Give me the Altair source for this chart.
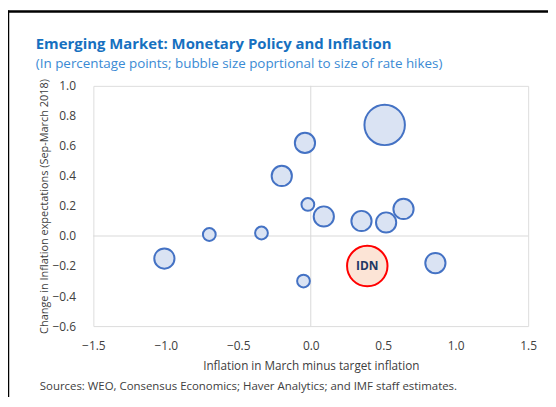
import altair as alt
import pandas as pd

# Data
countries = ["A", "B", "C", "D", "E", "F", "G", "H", "I", "J", "K", "L", "M", "IDN"]
inflation_gap = [0.51, -0.04, -0.20, -0.02, 0.09, 0.35, 0.52, 0.64, -0.70, -0.34, -1.01, -0.05, 0.86, 0.39]
expect_change = [0.74, 0.62, 0.40, 0.21, 0.13, 0.10, 0.09, 0.18, 0.01, 0.02, -0.15, -0.30, -0.18, -0.20]
rate_hike = [1.0, 0.25, 0.25, 0.1, 0.25, 0.25, 0.25, 0.25, 0.1, 0.1, 0.25, 0.1, 0.25, 1.0]

x_ticks = [-1.5, -1.0, -0.5, 0.0, 0.5, 1.0, 1.5]
y_ticks = [-0.6, -0.4, -0.2, 0.0, 0.2, 0.4, 0.6, 0.8, 1.0]

title_text = "Emerging Market: Monetary Policy and Inflation"
subtitle_text = "(In percentage points; bubble size poprtional to size of rate hikes)"
source_text = "Sources: WEO, Consensus Economics; Haver Analytics; and IMF staff estimates."

df = pd.DataFrame({
    "country": countries,
    "x": inflation_gap,
    "y": expect_change,
    "hike": rate_hike,
})
df["is_idn"] = df["country"] == "IDN"

FONT = "Open Sans"
W, H = 438, 242

xscale = alt.Scale(domain=[-1.5, 1.5], nice=False, zero=False)
yscale = alt.Scale(domain=[-0.6, 1.0], nice=False, zero=False)
sscale = alt.Scale(domain=[0, 1], range=[0, 1660], zero=True)

xaxis = alt.Axis(values=x_ticks, format=".1f", grid=False, ticks=False, domain=False,
                 labelPadding=15, labelFontSize=12, labelColor="#404040", labelFont=FONT,
                 labelOverlap=False,
                 title="Inflation in March minus target inflation", titleFontSize=11.8,
                 titleFontWeight="normal", titleColor="#404040", titleFont=FONT,
                 titlePadding=9, labelFlush=False)
yaxis = alt.Axis(values=y_ticks, format=".1f", grid=False, ticks=False, domain=False,
                 labelPadding=18, labelFontSize=12, labelColor="#404040", labelFont=FONT,
                 labelOverlap=False,
                 title="Change in Inflation expectations (Sep-March 2018)", titleFontSize=11,
                 titleFontWeight="normal", titleColor="#404040", titleFont=FONT,
                 titlePadding=2, labelFlush=False)

X = lambda f: alt.X(f, scale=xscale, axis=xaxis)
Y = lambda f: alt.Y(f, scale=yscale, axis=yaxis)

base = alt.Chart(df)

zero_x = alt.Chart(pd.DataFrame({"x": [0.0]})).mark_rule(color="#d9d9d9", strokeWidth=1).encode(
    x=X("x:Q")
)
zero_y = alt.Chart(pd.DataFrame({"y": [0.0]})).mark_rule(color="#d9d9d9", strokeWidth=1).encode(
    y=Y("y:Q")
)

bubbles = base.transform_filter("!datum.is_idn").mark_circle(
    fill="#dae3f3", stroke="#4472c4", strokeWidth=2, opacity=1, fillOpacity=1
).encode(
    x=X("x:Q"),
    y=Y("y:Q"),
    size=alt.Size("hike:Q", scale=sscale, legend=None),
)

idn = base.transform_filter("datum.is_idn").mark_circle(
    fill="#fce4d6", stroke="#ff0000", strokeWidth=2, opacity=1, fillOpacity=1
).encode(
    x=X("x:Q"),
    y=Y("y:Q"),
    size=alt.Size("hike:Q", scale=sscale, legend=None),
)

idn_label = base.transform_filter("datum.is_idn").mark_text(
    font=FONT, fontSize=12, fontWeight="bold", color="#1f3864"
).encode(
    x=X("x:Q"),
    y=Y("y:Q"),
    text="country:N",
)

texts = pd.DataFrame({"t": [title_text], "s": [subtitle_text], "src": [source_text]})

title_mark = alt.Chart(texts).mark_text(
    font=FONT, fontSize=15, fontWeight="bold", color="#1670c0", align="left", baseline="alphabetic"
).encode(x=alt.value(-58), y=alt.value(-37), text="t:N")

subtitle_mark = alt.Chart(texts).mark_text(
    font=FONT, fontSize=13.5, color="#3a8ad4", align="left", baseline="alphabetic"
).encode(x=alt.value(-58), y=alt.value(-18), text="s:N")

source = alt.Chart(texts).mark_text(
    font=FONT, fontSize=11.5, color="#404040", align="left", baseline="middle"
).encode(x=alt.value(-54), y=alt.value(303), text="src:N")

frame_left = alt.Chart(pd.DataFrame({"a": [0]})).mark_rule(color="black", strokeWidth=2.5).encode(
    x=alt.value(-86), y=alt.value(-76), y2=alt.value(320)
)
frame_top = alt.Chart(pd.DataFrame({"a": [0]})).mark_rule(color="black", strokeWidth=2.5).encode(
    x=alt.value(-87), x2=alt.value(480), y=alt.value(-75)
)

chart = alt.layer(
    zero_x, zero_y, bubbles, idn, idn_label, title_mark, subtitle_mark, source, frame_left, frame_top
).properties(
    width=W, height=H,
    padding={"left": 86, "top": 77, "right": 20, "bottom": 70},
    autosize=alt.AutoSizeParams(type="none"),
).configure_view(
    stroke="#d9d9d9", strokeWidth=1
).configure(background="white")

chart.save("out.html", embed_options={"renderer": "svg", "actions": False})
